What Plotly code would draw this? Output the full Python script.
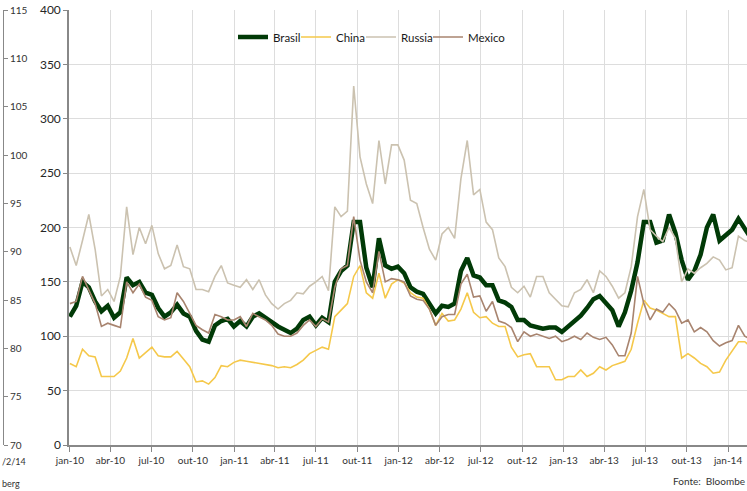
import pandas as pd
import plotly.graph_objects as go

# ---- data (14-day sampling from 2010-01-01) ----
dates = pd.date_range("2010-01-01", periods=109, freq="14D")

brasil = [118,128,150,145,132,123,128,117,122,154,147,150,140,138,126,118,122,129,121,118,105,97,95,110,114,116,109,114,109,118,121,117,112,109,106,103,107,
          115,118,110,117,113,150,160,165,205,205,163,145,190,165,162,164,158,145,141,139,130,121,128,127,130,160,172,156,154,147,147,133,131,127,115,115,110,
          108,107,108,108,104,109,113,119,126,134,137,131,124,109,122,142,168,205,205,186,188,212,195,170,152,160,175,200,212,188,193,198,208,198,190]

china = [75,72,88,82,81,63,63,63,68,80,98,80,85,90,82,81,81,86,79,72,58,59,56,62,73,72,76,78,77,76,75,74,73,71,72,71,74,
         78,84,87,90,88,118,124,130,155,165,140,135,158,135,148,152,149,140,136,135,125,110,121,114,115,125,140,122,117,118,112,109,109,90,81,83,84,
         72,72,72,60,60,63,63,69,63,66,72,69,73,75,77,88,112,133,126,124,121,118,118,80,84,80,75,72,66,67,78,86,95,95,90]

russia = [182,165,188,212,180,137,143,132,155,219,175,200,185,202,176,162,165,184,164,162,143,143,141,155,165,149,147,145,152,143,152,138,130,125,130,133,140,
          139,146,150,155,142,219,210,215,330,265,240,222,280,240,276,276,262,225,222,200,180,170,194,200,190,245,280,230,235,205,198,172,164,145,140,146,136,
          155,155,140,134,128,127,140,143,152,140,160,155,146,135,140,164,210,235,198,192,187,200,190,150,162,158,163,167,173,170,161,163,192,188,186]

mexico = [130,132,155,142,130,109,112,110,108,150,140,148,136,133,118,115,117,140,132,121,110,106,103,120,118,115,115,118,109,121,118,115,110,102,100,100,103,
          110,115,109,116,113,145,162,165,210,170,150,140,178,150,153,152,150,137,134,133,125,110,118,120,120,148,157,136,137,123,132,114,112,108,95,104,100,
          102,100,98,100,95,97,100,97,103,99,97,99,92,82,82,103,155,130,115,125,122,130,124,112,115,104,108,104,96,91,94,96,110,100,97]

tick_vals = ["2010-01-01","2010-04-01","2010-07-01","2010-10-01","2011-01-01","2011-04-01","2011-07-01","2011-10-01",
             "2012-01-01","2012-04-01","2012-07-01","2012-10-01","2013-01-01","2013-04-01","2013-07-01","2013-10-01","2014-01-01"]
tick_text = ["jan-10","abr-10","jul-10","out-10","jan-11","abr-11","jul-11","out-11",
             "jan-12","abr-12","jul-12","out-12","jan-13","abr-13","jul-13","out-13","jan-14"]

W, H = 747, 491
FONT = "Lato"

fig = go.Figure()
fig.add_trace(go.Scatter(x=dates, y=brasil, name="Brasil", mode="lines", legend="legend",
                         line=dict(color="#013a07", width=4.5)))
fig.add_trace(go.Scatter(x=dates, y=china, name="China", mode="lines", legend="legend2",
                         line=dict(color="#f5c84a", width=1.6)))
fig.add_trace(go.Scatter(x=dates, y=russia, name="Russia", mode="lines", legend="legend3",
                         line=dict(color="#cbc2b0", width=1.6)))
fig.add_trace(go.Scatter(x=dates, y=mexico, name="Mexico", mode="lines", legend="legend4",
                         line=dict(color="#a8846f", width=1.6)))
# fragment axis of the neighbouring chart (left edge)
fig.add_trace(go.Scatter(x=[dates[0]], y=[None], yaxis="y2", showlegend=False,
                         hoverinfo="skip", mode="lines"))


def leg(px):
    return dict(orientation="h", x=px / W, xanchor="left", y=1 - 27 / 435, yanchor="middle",
                bgcolor="rgba(0,0,0,0)", font=dict(size=11.5, color="#1a1a1a"))


fig.update_layout(
    width=W, height=H,
    margin=dict(l=0, r=0, t=10, b=46),
    paper_bgcolor="white", plot_bgcolor="white",
    font=dict(family=FONT, size=11, color="#262626"),
    showlegend=True,
    legend=leg(233), legend2=leg(296), legend3=leg(361), legend4=leg(428),
    xaxis=dict(domain=[69/W, 1], range=["2009-12-30", "2014-02-12"], type="date",
               tickvals=tick_vals, ticktext=tick_text, tickfont=dict(size=10, color="#333333"),
               showgrid=True, gridcolor="#dddddd", gridwidth=1,
               showline=True, linecolor="#888888", linewidth=1.5,
               ticks="outside", ticklen=5, tickcolor="#888888",
               zeroline=False, automargin=False),
    yaxis=dict(range=[0, 400], dtick=50, tickfont=dict(size=12, color="#262626"),
               showgrid=True, gridcolor="#dddddd", gridwidth=1,
               showline=True, linecolor="#888888", linewidth=1.5,
               ticks="outside", ticklen=4, tickcolor="#888888",
               zeroline=False, automargin=False),
    yaxis2=dict(overlaying="y", anchor="free", position=3/W, side="right",
                range=[70, 115], dtick=5, tickfont=dict(size=10, color="#333333"),
                showgrid=False, showline=True, linecolor="#888888", linewidth=1,
                ticks="outside", ticklen=4, tickcolor="#888888", zeroline=False,
                automargin=False),
    annotations=[
        dict(text="/2/14", x=0, xref="paper", xanchor="left", y=-16/435, yref="paper",
             yanchor="middle", showarrow=False, font=dict(size=9, color="#333333")),
        dict(text="berg", x=0, xref="paper", xanchor="left", y=-38/435, yref="paper",
             yanchor="middle", showarrow=False, font=dict(size=9, color="#333333")),
        dict(text="Fonte:  Bloombe", x=1, xref="paper", xanchor="right", y=-36/435, yref="paper",
             yanchor="middle", showarrow=False, font=dict(size=10, color="#333333")),
    ],
)

fig.write_html("out.html", config={"displayModeBar": False},
               post_script="document.body.style.margin='0';document.body.style.padding='0';")
